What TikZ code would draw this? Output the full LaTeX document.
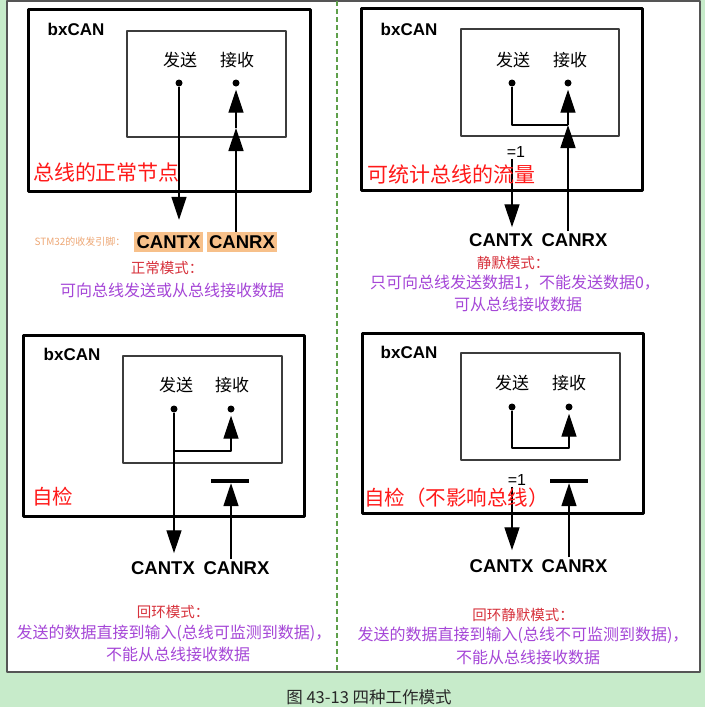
\documentclass[tikz,border=0pt]{standalone}
\usepackage{fontspec}
\setmainfont{Liberation Sans}
\newfontfamily\cjk{Noto Sans CJK SC}
\usetikzlibrary{arrows.meta}
\definecolor{bggreen}{RGB}{199,235,202}
\definecolor{panelgray}{RGB}{85,85,85}
\definecolor{dashgreen}{RGB}{95,160,75}
\definecolor{boxgray}{RGB}{60,60,60}
\definecolor{labelred}{RGB}{255,25,25}
\definecolor{modered}{RGB}{215,50,60}
\definecolor{descpurple}{RGB}{165,70,215}
\definecolor{pinfill}{RGB}{247,192,138}
\definecolor{pintext}{RGB}{238,168,118}
\definecolor{captext}{RGB}{40,40,40}
\begin{document}
\begin{tikzpicture}[x=1pt,y=-1pt,line join=round,
    wire/.style={line width=1.4pt},
    arr/.style={-{Triangle[width=15pt,length=23pt]}},
    outerbox/.style={line width=3pt},
    innerbox/.style={line width=1.2pt,draw=boxgray},
    dot/.style={circle,fill,inner sep=0pt,minimum size=7pt},
    bar/.style={rectangle,fill,inner sep=0pt,minimum width=38pt,minimum height=4pt},
    chip/.style={font=\fontsize{17}{17}\selectfont\bfseries},
    port/.style={font=\fontsize{17}{17}\selectfont\cjk},
    pin/.style={font=\fontsize{18.5}{18.5}\selectfont\bfseries,inner sep=2pt},
    pinbox/.style={pin,fill=pinfill,minimum width=69pt,minimum height=20pt,inner sep=0pt},
    pinnote/.style={font=\fontsize{10}{10}\selectfont\cjk,text=pintext},
    xorlabel/.style={font=\fontsize{16}{16}\selectfont,inner sep=1pt},
    note/.style={font=\fontsize{21}{21}\selectfont\cjk,text=labelred},
    modetitle/.style={font=\fontsize{14.5}{14.5}\selectfont\cjk,text=modered},
    modedesc/.style={font=\fontsize{16}{16}\selectfont\cjk,text=descpurple}]
\useasboundingbox (0,0) rectangle (705,707);
\fill[bggreen] (0,0) rectangle (705,707);
\draw[fill=white,draw=panelgray,line width=1.5pt] (7,1) rectangle (700,672);
\draw[dashgreen,line width=2pt,dash pattern=on 5pt off 3pt] (337,1) -- (337,672);
\node[font=\fontsize{16.5}{16.5}\selectfont\cjk,text=captext] (caption) at (369,697) {图 43-13 四种工作模式};

% normal mode
\draw[outerbox] (28,9) rectangle (310,191);
\draw[innerbox] (127,31) rectangle (286,137);
\node[chip] (tlchip) at (76,29) {bxCAN};
\node[port] (tlsend) at (180,60) {发送};
\node[port] (tlrecv) at (237,60) {接收};
\node[dot] (tltx) at (179,83) {};
\node[dot] (tlrx) at (236,83) {};
\coordinate (tlmid) at (236,128);
\node[pinbox] (tlcantx) at (168.5,242) {CANTX};
\node[pinbox,minimum width=70pt] (tlcanrx) at (242,242) {CANRX};
\node[pinnote] (tlpins) at (80,242) {STM32的收发引脚：};
\draw[wire,arr,shorten >=12pt] (tltx) -- (tltx |- tlcantx.north);
\draw[wire,arr] (tlrx |- tlcanrx.north) -- (tlmid);
\draw[wire,arr,shorten >=3pt] (tlmid) -- (tlrx);
\node[note] (tlnote) at (106.5,172) {总线的正常节点};
\node[modetitle] (tlmode) at (167,268) {正常模式：};
\node[modedesc] (tldesc) at (172,290) {可向总线发送或从总线接收数据};

% silent mode
\draw[outerbox] (361,8) rectangle (642,190);
\draw[innerbox] (461,29) rectangle (619,136);
\node[chip] (trchip) at (409,29) {bxCAN};
\node[port] (trsend) at (513,60) {发送};
\node[port] (trrecv) at (570,60) {接收};
\node[dot] (trtx) at (512,83) {};
\node[dot] (trrx) at (568,83) {};
\coordinate (trjoin) at (568,125);
\node[xorlabel] (trxor) at (516,152) {=1};
\node[pin] (trcantx) at (501,240) {CANTX};
\node[pin] (trcanrx) at (574.5,240) {CANRX};
\draw[wire] (trtx) |- (trjoin);
\draw[wire,arr] (trrx |- trcanrx.north) -- (trjoin);
\draw[wire,arr,shorten >=3pt] (trjoin) -- (trrx);
\draw[wire,arr,shorten >=4pt] (trtx |- trxor.south) -- (trtx |- trcantx.north);
\node[note] (trnote) at (451,174) {可统计总线的流量};
\node[modetitle] (trmode) at (513,263) {静默模式：};
\node[modedesc] (trdesc) at (515,283) {只可向总线发送数据1，不能发送数据0，};
\node[modedesc] (trdescb) at (518,304) {可从总线接收数据};

% loop back mode
\draw[outerbox] (23,335) rectangle (304,516);
\draw[innerbox] (123,356) rectangle (282,463);
\node[chip] (blchip) at (72,354) {bxCAN};
\node[port] (blsend) at (176,385) {发送};
\node[port] (blrecv) at (232,385) {接收};
\node[dot] (bltx) at (174,409) {};
\node[dot] (blrx) at (231,409) {};
\coordinate (blsplit) at (174,451);
\node[bar] (blbar) at (229.5,481) {};
\node[pin] (blcantx) at (163,568) {CANTX};
\node[pin] (blcanrx) at (236.5,568) {CANRX};
\draw[wire,arr,shorten >=6pt] (bltx) -- (bltx |- blcantx.north);
\draw[wire,arr,shorten >=3pt] (blsplit) -| (blrx);
\draw[wire,arr] (blrx |- blcanrx.north) -- (blrx |- blbar.south);
\node[note,font=\fontsize{20.5}{20.5}\selectfont\cjk] (blnote) at (52.5,497) {自检};
\node[modetitle] (blmode) at (173,612) {回环模式：};
\node[modedesc] (bldesc) at (174,633) {发送的数据直接到输入(总线可监测到数据)，};
\node[modedesc] (bldescb) at (178,654) {不能从总线接收数据};

% silent loop back mode
\draw[outerbox] (362,333) rectangle (643,513);
\draw[innerbox] (461,353) rectangle (620,460);
\node[chip] (brchip) at (409,352) {bxCAN};
\node[port] (brsend) at (512,383) {发送};
\node[port] (brrecv) at (569,383) {接收};
\node[dot] (brtx) at (512,407) {};
\node[dot] (brrx) at (569,407) {};
\coordinate (brjoin) at (569,448);
\node[bar] (brbar) at (568.5,481) {};
\node[xorlabel] (brxor) at (517,480) {=1};
\node[pin] (brcantx) at (501.5,566) {CANTX};
\node[pin] (brcanrx) at (574.5,566) {CANRX};
\draw[wire,arr,shorten >=3pt] (brtx) |- (brjoin) -- (brrx);
\draw[wire,arr] (brrx |- brcanrx.north) -- (brrx |- brbar.south);
\draw[wire,arr,shorten >=7pt] (brtx |- brxor.south) -- (brtx |- brcantx.north);
\node[note,font=\fontsize{20.5}{20.5}\selectfont\cjk] (brnote) at (456.5,498) {自检（不影响总线）};
\node[modetitle] (brmode) at (523,615) {回环静默模式：};
\node[modedesc] (brdesc) at (523,635) {发送的数据直接到输入(总线不可监测到数据)，};
\node[modedesc] (brdescb) at (528,657) {不能从总线接收数据};
\end{tikzpicture}
\end{document}
